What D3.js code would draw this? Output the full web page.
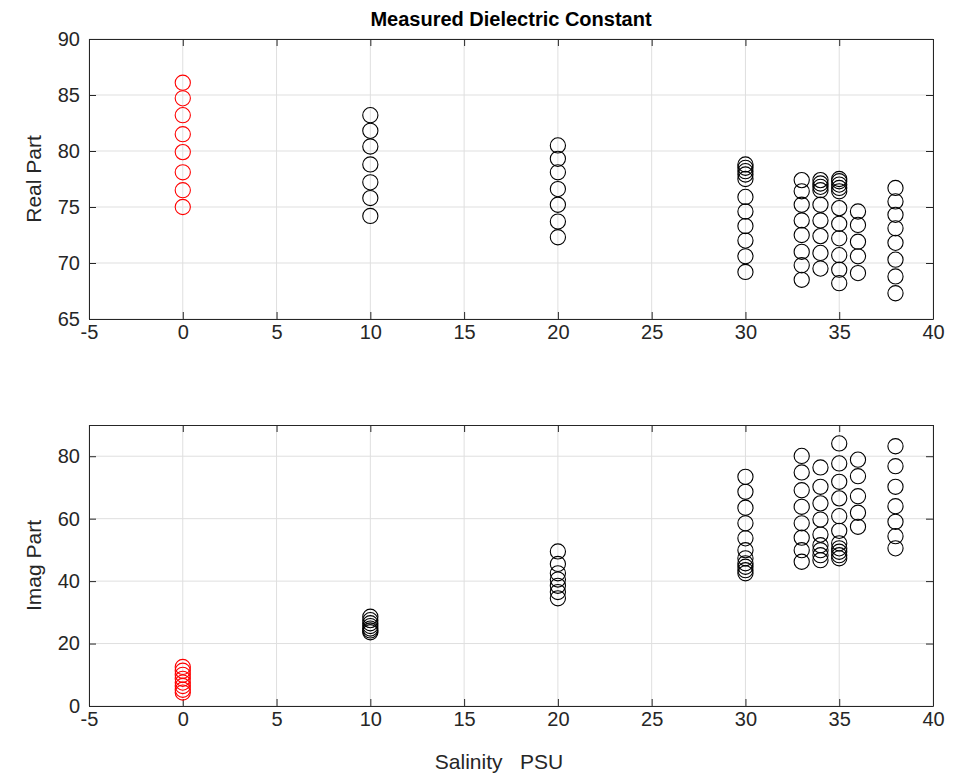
<!DOCTYPE html>
<html>
<head>
<meta charset="utf-8">
<script src="https://cdn.jsdelivr.net/npm/d3@7"></script>
<style>
  body { margin: 0; background: #fff; }
  svg text { font-family: "Liberation Sans", Arial, sans-serif; fill: #262626; }
</style>
</head>
<body>
<svg id="chart" width="963" height="777"></svg>
<script>
// salinity levels (PSU) and the measured values at each one
const salinity = [0, 10, 20, 30, 33, 34, 35, 36, 38];

const realPart = [
  [86.1, 84.7, 83.2, 81.5, 79.9, 78.1, 76.5, 75.0],
  [83.2, 81.8, 80.4, 78.8, 77.2, 75.8, 74.2],
  [80.5, 79.3, 78.1, 76.6, 75.2, 73.7, 72.3],
  [78.8, 78.5, 78.2, 77.9, 77.5, 75.9, 74.6, 73.3, 72.0, 70.6, 69.2],
  [77.4, 76.4, 75.2, 73.8, 72.5, 71.0, 69.8, 68.5],
  [77.4, 77.1, 76.8, 76.5, 75.2, 73.8, 72.4, 70.9, 69.5],
  [77.5, 77.3, 77.0, 76.7, 76.4, 74.9, 73.5, 72.2, 70.7, 69.4, 68.2],
  [74.6, 73.4, 71.9, 70.6, 69.1],
  [76.7, 75.5, 74.3, 73.1, 71.8, 70.3, 68.8, 67.3]
];

const imagPart = [
  [12.5, 11.3, 10.0, 8.7, 7.5, 6.4, 5.2, 4.3],
  [28.6, 27.5, 26.5, 25.6, 24.8, 24.2, 23.6],
  [49.5, 45.5, 42.5, 40.5, 38.5, 36.5, 34.5],
  [73.4, 68.6, 63.5, 58.5, 53.7, 49.9, 47.3, 45.7, 44.6, 43.5, 42.5],
  [80.1, 74.8, 69.1, 63.8, 58.5, 53.9, 49.9, 46.2],
  [76.4, 70.2, 64.9, 59.7, 54.9, 51.5, 49.9, 48.3, 46.7],
  [84.1, 77.7, 71.8, 66.5, 60.8, 56.1, 52.1, 50.5, 49.4, 48.3, 47.3],
  [78.9, 73.6, 67.2, 61.9, 57.4],
  [83.2, 76.8, 70.2, 64.0, 59.0, 54.4, 50.5]
];

const xTicks = [-5, 0, 5, 10, 15, 20, 25, 30, 35, 40];
const realTicks = [65, 70, 75, 80, 85, 90];
const imagTicks = [0, 20, 40, 60, 80];

// fresh water (0 PSU) in red, the rest black
function markerColor(s) {
  return s === 0 ? '#ff0000' : '#000000';
}

const svg = d3.select('#chart');
const left = 89, right = 933;
const axisColor = '#262626', gridColor = '#dfdfdf';

const x = d3.scaleLinear().domain([-5, 40]).range([left, right]);

function flatten(values) {
  let pts = [];
  values.forEach((col, i) => col.forEach(v => pts.push({ s: salinity[i], v: v })));
  return pts;
}

function drawPanel(top, bottom, domain, ticks, values, label) {
  const y = d3.scaleLinear().domain(domain).range([bottom, top]);
  const g = svg.append('g');

  // grid
  g.append('g')
    .selectAll('line')
    .data(xTicks)
    .enter()
    .append('line')
      .attr('x1', d => x(d)).attr('x2', d => x(d))
      .attr('y1', top).attr('y2', bottom)
      .attr('stroke', gridColor);
  g.append('g')
    .selectAll('line')
    .data(ticks)
    .enter()
    .append('line')
      .attr('x1', left).attr('x2', right)
      .attr('y1', d => y(d)).attr('y2', d => y(d))
      .attr('stroke', gridColor);

  // axes with inward ticks, matlab style (plain hyphen for negatives)
  const bottomAxis = d3.axisBottom(x).tickValues(xTicks).tickSizeInner(-7).tickSizeOuter(0).tickPadding(6).tickFormat(d => String(d));
  const topAxis = d3.axisTop(x).tickValues(xTicks).tickSizeInner(-7).tickSizeOuter(0).tickFormat('');
  const leftAxis = d3.axisLeft(y).tickValues(ticks).tickSizeInner(-7).tickSizeOuter(0).tickPadding(9).tickFormat(d => String(d));
  const rightAxis = d3.axisRight(y).tickValues(ticks).tickSizeInner(-7).tickSizeOuter(0).tickFormat('');

  [[bottomAxis, `translate(0,${bottom})`], [topAxis, `translate(0,${top})`],
   [leftAxis, `translate(${left},0)`], [rightAxis, `translate(${right},0)`]].forEach(a => {
    const ax = g.append('g').attr('transform', a[1]).call(a[0]);
    ax.select('.domain').attr('stroke', axisColor);
    ax.selectAll('.tick line').attr('stroke', axisColor);
    ax.selectAll('.tick text')
      .style('font-family', '"Liberation Sans", Arial, sans-serif')
      .style('font-size', '20px')
      .attr('fill', axisColor);
  });

  // markers
  g.append('g')
    .selectAll('circle')
    .data(flatten(values))
    .enter()
    .append('circle')
      .attr('cx', d => x(d.s))
      .attr('cy', d => y(d.v))
      .attr('r', 7.6)
      .attr('fill', 'none')
      .attr('stroke', d => markerColor(d.s))
      .attr('stroke-width', 1.1);

  g.append('text')
    .attr('transform', `translate(41,${(top + bottom) / 2}) rotate(-90)`)
    .attr('text-anchor', 'middle')
    .style('font-size', '21px')
    .text(label);
}

drawPanel(39, 319, [65, 90], realTicks, realPart, 'Real Part');
drawPanel(425, 706, [0, 90], imagTicks, imagPart, 'Imag Part');

svg.append('text')
  .attr('x', (left + right) / 2)
  .attr('y', 26)
  .attr('text-anchor', 'middle')
  .style('font-size', '20px')
  .style('font-weight', 'bold')
  .style('fill', '#000')
  .text('Measured Dielectric Constant');

svg.append('text')
  .attr('x', 499)
  .attr('y', 769)
  .attr('text-anchor', 'middle')
  .style('font-size', '21px')
  .style('white-space', 'pre')
  .text('Salinity   PSU');
</script>
</body>
</html>
